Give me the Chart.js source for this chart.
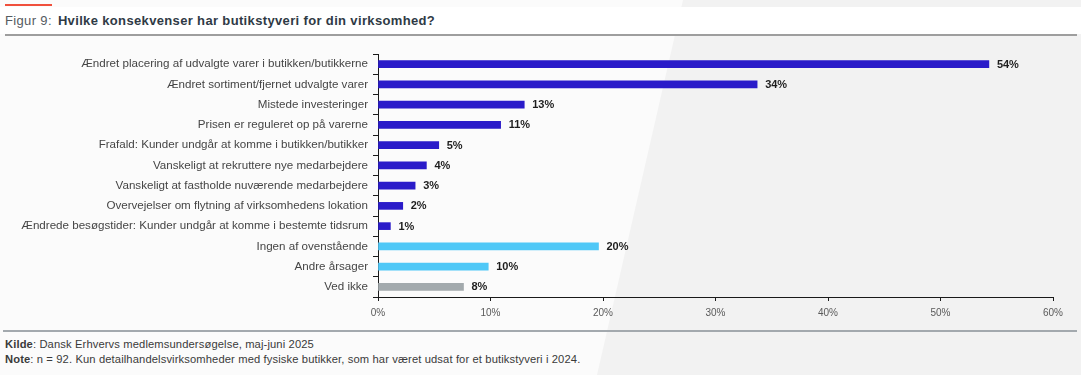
<!DOCTYPE html>
<html>
<head>
<meta charset="utf-8">
<script src="https://cdn.jsdelivr.net/npm/chart.js@4/dist/chart.umd.min.js"></script>
<style>
  html, body { margin: 0; padding: 0; }
  body { width: 1081px; height: 375px; position: relative; overflow: hidden; background: #fbfbfb; font-family: "Liberation Sans", Arial, sans-serif; }
  #shade { position: absolute; left: 0; top: 0; width: 1081px; height: 375px; background: #f2f2f2;
           clip-path: polygon(683px 0, 1081px 0, 1081px 375px, 597px 375px); }
  #band { position: absolute; left: 0; top: 7px; width: 1081px; height: 27px; background: #ffffff; }
  #redline { position: absolute; left: 5px; top: 4px; width: 47px; height: 2px; background: #f0503c; }
  #title { position: absolute; left: 5px; top: 13px; font-size: 13px; letter-spacing: 0.35px; color: #555b61; white-space: nowrap; }
  #title b { color: #2f3a45; font-size: 13px; margin-left: 6px; }
  #rule1 { position: absolute; left: 5px; top: 34px; width: 1072px; height: 2px; background: #9e9e9e; }
  #rule2 { position: absolute; left: 3px; top: 330px; width: 1074px; height: 2px; background: #a3a9ae; }
  .note { position: absolute; left: 5px; font-size: 11.2px; letter-spacing: 0.12px; color: #3a3a3a; white-space: nowrap; }
  #kilde { top: 338px; }
  #note { top: 353px; }
  #c { position: absolute; left: 0; top: 40px; }
</style>
</head>
<body>
<div id="shade"></div>
<div id="band"></div>
<div id="redline"></div>
<div id="title">Figur 9:<b>Hvilke konsekvenser har butikstyveri for din virksomhed?</b></div>
<div id="rule1"></div>
<canvas id="c" width="1081" height="290"></canvas>
<div id="rule2"></div>
<div class="note" id="kilde"><b>Kilde</b>: Dansk Erhvervs medlemsundersøgelse, maj-juni 2025</div>
<div class="note" id="note"><b>Note</b>: n = 92. Kun detailhandelsvirksomheder med fysiske butikker, som har været udsat for et butikstyveri i 2024.</div>
<script>
const categories = [
  "Ændret placering af udvalgte varer i butikken/butikkerne",
  "Ændret sortiment/fjernet udvalgte varer",
  "Mistede investeringer",
  "Prisen er reguleret op på varerne",
  "Frafald: Kunder undgår at komme i butikken/butikker",
  "Vanskeligt at rekruttere nye medarbejdere",
  "Vanskeligt at fastholde nuværende medarbejdere",
  "Overvejelser om flytning af virksomhedens lokation",
  "Ændrede besøgstider: Kunder undgår at komme i bestemte tidsrum",
  "Ingen af ovenstående",
  "Andre årsager",
  "Ved ikke"
];
const values = [54.3, 33.7, 13.0, 10.9, 5.4, 4.3, 3.3, 2.2, 1.1, 19.6, 9.8, 7.6];
const xTicks = [0, 10, 20, 30, 40, 50, 60];

const colors = values.map((v, i) => i < 9 ? '#2a1bc9' : (i < 11 ? '#4fc8f7' : '#a3aaad'));

const valueLabels = {
  id: 'valueLabels',
  afterDatasetsDraw(chart) {
    const ctx = chart.ctx;
    const meta = chart.getDatasetMeta(0);
    ctx.save();
    ctx.font = 'bold 11px "Liberation Sans", Arial, sans-serif';
    ctx.fillStyle = '#1e1e1e';
    ctx.textAlign = 'left';
    ctx.textBaseline = 'middle';
    meta.data.forEach((bar, i) => {
      ctx.fillText(Math.round(values[i]) + '%', bar.x + 8, bar.y + 0.5);
    });
    ctx.restore();
  }
};

new Chart(document.getElementById('c'), {
  type: 'bar',
  data: {
    labels: categories,
    datasets: [{
      data: values,
      backgroundColor: colors,
      borderWidth: 0,
      barThickness: 7
    }]
  },
  options: {
    indexAxis: 'y',
    responsive: false,
    animation: false,
    devicePixelRatio: 1,
    layout: { padding: { left: 0, right: 28, top: 14, bottom: 0 } },
    plugins: { legend: { display: false }, tooltip: { enabled: false } },
    scales: {
      x: {
        min: 0, max: 60,
        afterBuildTicks(scale) { scale.ticks = xTicks.map(v => ({ value: v })); },
        afterFit(scale) { scale.height = 33; },
        border: { display: true, color: '#1a1a1a', width: 1 },
        grid: { display: true, drawOnChartArea: false, drawTicks: true, tickLength: 4, color: '#1a1a1a' },
        ticks: {
          padding: 6,
          color: '#5a5a5a',
          font: { size: 10, family: '"Liberation Sans", Arial, sans-serif' },
          callback: v => v + '%'
        }
      },
      y: {
        afterFit(scale) { scale.width = 378; },
        border: { display: true, color: '#1a1a1a', width: 1 },
        grid: { display: true, drawOnChartArea: false, drawTicks: true, tickLength: 5, color: '#1a1a1a', offset: true },
        ticks: {
          padding: 5,
          color: '#454545',
          autoSkip: false,
          font: { size: 11.6, family: '"Liberation Sans", Arial, sans-serif' }
        }
      }
    }
  },
  plugins: [valueLabels]
});
</script>
</body>
</html>
